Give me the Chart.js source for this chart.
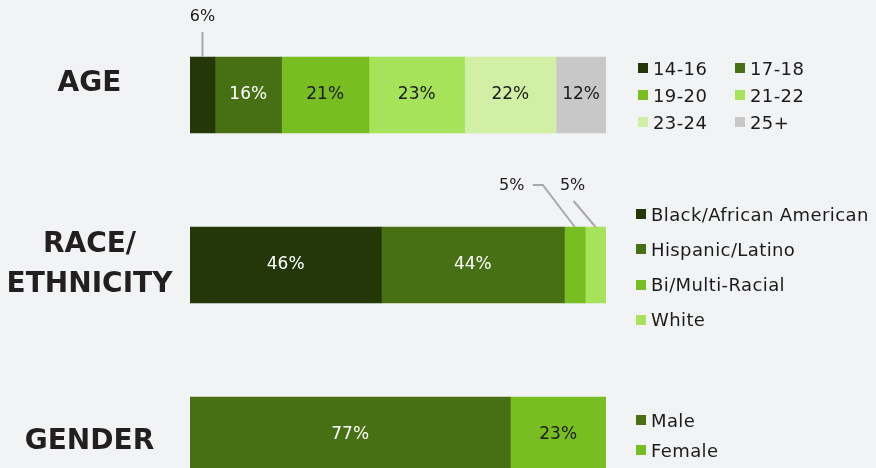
<!DOCTYPE html>
<html>
<head>
  <title>Participant Demographics</title>
  <script src="https://cdn.jsdelivr.net/npm/chart.js"></script>
  <style>
    html, body { margin: 0; padding: 0; background: #f2f3f5; overflow: hidden; }
    #wrap { position: relative; width: 876px; height: 530px; }
    .legend { position: absolute; left: 0; top: 0; font-family: "DejaVu Sans", sans-serif; font-size: 18px; color: #1b1b1b; letter-spacing: 0.4px; }
    .item { position: absolute; height: 20px; display: flex; align-items: center; white-space: nowrap; }
    .sw { width: 10px; height: 10px; margin-right: 5px; flex: none; }
  </style>
</head>
<body>
  <div id="wrap">
    <canvas id="demoChart" width="876" height="530"></canvas>
    <div class="legend" id="legend"></div>
  </div>

  <script>
    // blank lines nudge AGE up and GENDER down like in the original layout
    const groups = [["AGE", ""], ["RACE/", "ETHNICITY"], ["", "GENDER"]];

    const ageLabels = ["14-16", "17-18", "19-20", "21-22", "23-24", "25+"];
    const ageValues = [6, 16, 21, 23, 22, 12];
    const ageColors = ["#243709", "#476f14", "#78bd21", "#a6e35b", "#d1f0a5", "#c8c8c8"];

    const raceLabels = ["Black/African American", "Hispanic/Latino", "Bi/Multi-Racial", "White"];
    const raceValues = [46, 44, 5, 5];
    const raceColors = ["#243709", "#476f14", "#78bd21", "#a6e35b"];

    const genderLabels = ["Male", "Female"];
    const genderValues = [77, 23];
    const genderColors = ["#476f14", "#78bd21"];

    const sets = [
      { labels: ageLabels, values: ageValues, colors: ageColors },
      { labels: raceLabels, values: raceValues, colors: raceColors },
      { labels: genderLabels, values: genderValues, colors: genderColors }
    ];

    // small segments get their label outside the bar with a leader line
    const callouts = { "0-0": "up", "1-2": "left", "1-3": "right" };

    const datasets = [];
    sets.forEach((s, g) => {
      s.labels.forEach((lab, i) => {
        const data = [null, null, null];
        data[g] = s.values[i];
        datasets.push({
          label: lab,
          data: data,
          backgroundColor: s.colors[i],
          borderWidth: 0,
          group: g,
          seg: i
        });
      });
    });

    function isDark(hex) {
      const r = parseInt(hex.substr(1, 2), 16), gr = parseInt(hex.substr(3, 2), 16), b = parseInt(hex.substr(5, 2), 16);
      return (0.299 * r + 0.587 * gr + 0.114 * b) < 110;
    }

    const tickLineHeights = [22, 40, 14];
    const mctx = document.createElement("canvas").getContext("2d");
    mctx.font = "bold 28px 'DejaVu Sans'";
    const widest = mctx.measureText("ETHNICITY").width;
    const tickPad = 190 - 89.5 - widest / 2;

    const valueLabels = {
      id: "valueLabels",
      afterDatasetsDraw(chart) {
        const ctx = chart.ctx;
        ctx.save();
        ctx.textBaseline = "middle";
        ctx.textAlign = "center";
        ctx.font = "17px 'DejaVu Sans'";
        chart.data.datasets.forEach((ds, di) => {
          const g = ds.group;
          const v = ds.data[g];
          const el = chart.getDatasetMeta(di).data[g];
          if (!el) return;
          const p = el.getProps(["x", "base", "y", "height"], true);
          const cx = (p.x + p.base) / 2;
          const top = p.y - p.height / 2;
          const txt = v + "%";
          const kind = callouts[g + "-" + ds.seg];
          if (!kind) {
            ctx.fillStyle = isDark(ds.backgroundColor) ? "#ffffff" : "#1b1b1b";
            ctx.fillText(txt, cx, p.y);
            return;
          }
          ctx.strokeStyle = "#a9a9a9";
          ctx.lineWidth = 2;
          ctx.fillStyle = "#1b1b1b";
          ctx.font = "16px 'DejaVu Sans'";
          ctx.beginPath();
          if (kind === "up") {
            ctx.moveTo(cx, top);
            ctx.lineTo(cx, top - 25);
            ctx.stroke();
            ctx.fillText(txt, cx, top - 40);
          } else if (kind === "left") {
            ctx.moveTo(cx, top);
            ctx.lineTo(cx - 32, top - 42);
            ctx.lineTo(cx - 42, top - 42);
            ctx.stroke();
            ctx.fillText(txt, cx - 63, top - 41);
          } else {
            ctx.moveTo(cx, top);
            ctx.lineTo(cx - 22, top - 26);
            ctx.stroke();
            ctx.fillText(txt, cx - 23, top - 41);
          }
          ctx.font = "17px 'DejaVu Sans'";
        });
        ctx.restore();
      }
    };

    new Chart(document.getElementById("demoChart").getContext("2d"), {
      type: "bar",
      data: { labels: groups, datasets: datasets },
      options: {
        indexAxis: "y",
        responsive: false,
        animation: false,
        layout: { padding: { left: 0, right: 270, top: 10, bottom: 10 } },
        plugins: { legend: { display: false }, tooltip: { enabled: false } },
        datasets: { bar: { barThickness: 76 } },
        scales: {
          x: { stacked: true, min: 0, max: 100, display: false },
          y: {
            stacked: true,
            grid: { display: false, drawTicks: false },
            border: { display: false },
            ticks: {
              crossAlign: "center",
              padding: tickPad,
              color: "#231f20",
              font: (c) => ({ family: "DejaVu Sans", size: 28, weight: "bold", lineHeight: tickLineHeights[c.index] + "px" })
            },
            afterFit(axis) {
              axis.width = 190;
              axis.paddingTop = 0;
              axis.paddingBottom = 0;
            }
          }
        }
      },
      plugins: [valueLabels]
    });

    // legends, one block per group
    const legendPos = [
      { left: 638, top: 68, cols: 2, colW: 97, rowH: 27 },
      { left: 636, top: 214, cols: 1, colW: 0, rowH: 35.3 },
      { left: 636, top: 420, cols: 1, colW: 0, rowH: 30 }
    ];
    const legendDiv = document.getElementById("legend");
    sets.forEach((s, g) => {
      const pos = legendPos[g];
      s.labels.forEach((lab, i) => {
        const item = document.createElement("div");
        item.className = "item";
        item.style.left = (pos.left + (i % pos.cols) * pos.colW) + "px";
        item.style.top = (pos.top + Math.floor(i / pos.cols) * pos.rowH - 10) + "px";
        const sw = document.createElement("span");
        sw.className = "sw";
        sw.style.background = s.colors[i];
        item.appendChild(sw);
        item.appendChild(document.createTextNode(lab));
        legendDiv.appendChild(item);
      });
    });
  </script>
</body>
</html>
